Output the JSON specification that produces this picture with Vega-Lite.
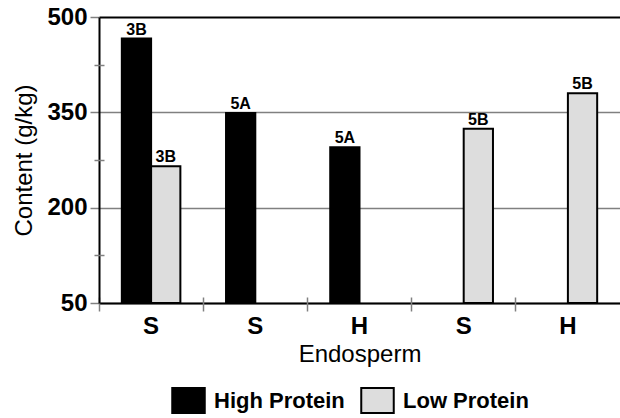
{
  "$schema": "https://vega.github.io/schema/vega-lite/v6.json",
  "width": 521,
  "height": 286,
  "autosize": {"type": "none"},
  "padding": {"left": 99, "top": 17, "right": 0, "bottom": 115},
  "background": "white",
  "config": {
    "view": {"stroke": null},
    "font": "Liberation Sans",
    "axis": {"labelFont": "Liberation Sans", "titleFont": "Liberation Sans"}
  },
  "data": {
    "values": [
      {"g": "1", "protein": "High Protein", "content": 466, "label": "3B"},
      {"g": "1", "protein": "Low Protein", "content": 265, "label": "3B"},
      {"g": "2", "protein": "High Protein", "content": 349, "label": "5A"},
      {"g": "3", "protein": "High Protein", "content": 295, "label": "5A"},
      {"g": "4", "protein": "Low Protein", "content": 324, "label": "5B"},
      {"g": "5", "protein": "Low Protein", "content": 380, "label": "5B"}
    ]
  },
  "encoding": {
    "x": {"field": "g", "type": "nominal", "sort": ["1", "2", "3", "4", "5"],
      "scale": {"paddingInner": 0, "paddingOuter": 0}},
    "xOffset": {"field": "protein", "type": "nominal", "sort": ["High Protein", "Low Protein"],
      "scale": {"paddingInner": 0, "paddingOuter": 0.78}},
    "y": {"field": "content", "type": "quantitative",
      "scale": {"domain": [50, 500], "nice": false, "zero": false}}
  },
  "layer": [
    {
      "mark": {"type": "bar", "stroke": "black", "strokeWidth": 2},
      "encoding": {
        "x": {"field": "g", "type": "nominal", "sort": ["1", "2", "3", "4", "5"],
          "scale": {"paddingInner": 0, "paddingOuter": 0},
          "axis": {
            "labelExpr": "['S','S','H','S','H'][toNumber(datum.value)-1]",
            "labelAngle": 0, "labelFontSize": 24, "labelFontWeight": "bold", "labelColor": "black",
            "labelPadding": 11, "ticks": false,
            "domainColor": "black", "domainWidth": 2,
            "title": "Endosperm", "titleFontSize": 24, "titleFontWeight": "normal", "titleColor": "black",
            "titlePadding": 4
          }},
        "y": {"field": "content", "type": "quantitative",
          "scale": {"domain": [50, 500], "nice": false, "zero": false},
          "axis": {
            "values": [50, 200, 350, 500],
            "labelFontSize": 24, "labelFontWeight": "bold", "labelColor": "black", "labelPadding": 3,
            "tickColor": "#808080", "tickSize": 9, "tickWidth": 1.5,
            "domainColor": "black", "domainWidth": 2,
            "grid": true,
            "gridColor": {"condition": {"test": "datum.value == 500", "value": "black"}, "value": "#808080"},
            "gridWidth": {"condition": {"test": "datum.value == 500", "value": 2}, "value": 1.5},
            "title": "Content (g/kg)", "titleFontSize": 24, "titleFontWeight": "normal", "titleColor": "black",
            "titlePadding": 10
          }},
        "y2": {"datum": 50},
        "color": {"field": "protein", "type": "nominal",
          "scale": {"domain": ["High Protein", "Low Protein"], "range": ["black", "#dddddd"]},
          "legend": {
            "orient": "none", "legendX": 76, "legendY": 370, "direction": "horizontal",
            "title": null, "padding": 0,
            "symbolType": "M-1.3,-1H1.3V1H-1.3Z", "symbolSize": 625,
            "symbolStrokeColor": "black", "symbolStrokeWidth": 2, "symbolOpacity": 1,
            "labelFont": "Liberation Sans", "labelFontSize": 22, "labelFontWeight": "bold", "labelColor": "black",
            "labelOffset": 12, "columnPadding": 12
          }}
      }
    },
    {
      "mark": {"type": "text", "baseline": "alphabetic", "dy": -4, "fontSize": 16, "fontWeight": "bold", "font": "Liberation Sans", "color": "black"},
      "encoding": {
        "text": {"field": "label"},
        "x": {"field": "g", "type": "nominal", "sort": ["1", "2", "3", "4", "5"],
          "axis": {"orient": "bottom", "offset": -6, "bandPosition": 0, "labels": false, "domain": false, "ticks": true,
            "tickSize": 14, "tickColor": "#808080", "tickWidth": 1.5, "title": null, "grid": false}},
        "y": {"field": "content", "type": "quantitative",
          "axis": {"orient": "left", "offset": -5, "values": [125, 275, 425], "labels": false, "domain": false,
            "ticks": true, "tickSize": 10, "tickColor": "#808080", "tickWidth": 1.5, "title": null, "grid": false}}
      }
    }
  ],
  "resolve": {"axis": {"x": "independent", "y": "independent"}}
}
